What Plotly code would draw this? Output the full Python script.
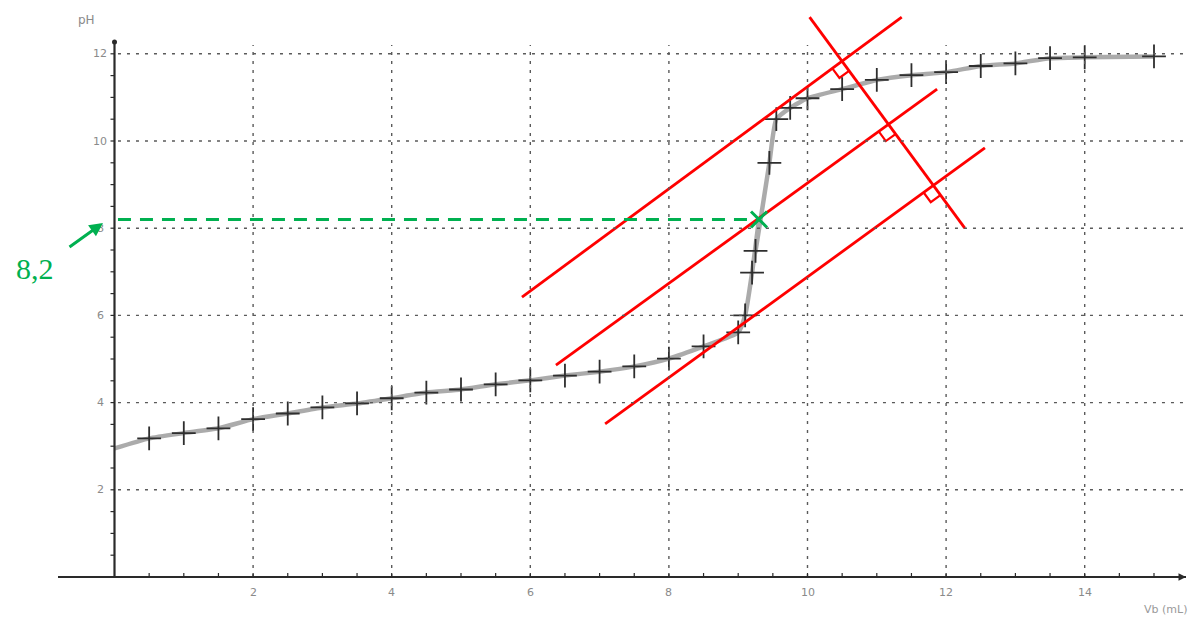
import plotly.graph_objects as go

# Titration curve: pH versus added base volume Vb (mL)
vol = [0.5, 1.0, 1.5, 2.0, 2.5, 3.0, 3.5, 4.0, 4.5, 5.0, 5.5, 6.0, 6.5, 7.0, 7.5,
       8.0, 8.5, 9.0, 9.1, 9.2, 9.25, 9.45, 9.55, 9.75, 10.0, 10.5, 11.0, 11.5,
       12.0, 12.5, 13.0, 13.5, 14.0, 15.0]
ph = [3.18, 3.30, 3.41, 3.62, 3.75, 3.89, 3.98, 4.10, 4.23, 4.30, 4.42, 4.51, 4.62,
      4.71, 4.83, 5.01, 5.29, 5.61, 6.00, 6.98, 7.48, 9.50, 10.50, 10.76, 10.98,
      11.19, 11.40, 11.51, 11.58, 11.72, 11.78, 11.90, 11.92, 11.94]

# Smoothed curve through the measurements
curve_vol = [0.0] + vol[:20] + [9.3] + vol[20:]
curve_ph = [2.95] + ph[:20] + [8.2] + ph[20:]

# Equivalence point
eq_vol = 9.3
eq_ph = 8.2

# Parallel tangents method: three parallel lines and their common perpendicular
tangent_upper = ([5.88, 11.36], [6.42, 12.84])
tangent_middle = ([6.37, 11.87], [4.86, 11.19])
tangent_lower = ([7.08, 12.56], [3.51, 9.84])
perpendicular = ([10.03, 12.27], [12.84, 8.00])

x_ticks = [2, 4, 6, 8, 10, 12, 14]
y_ticks = [2, 4, 6, 8, 10, 12]

# Canvas geometry
W, H = 1190, 621
X0_PX, PX_PER_ML = 114.5, 69.3
Y0_PX, PX_PER_PH = 577.0, 43.6


def to_px(v, p):
    return X0_PX + v * PX_PER_ML, Y0_PX - p * PX_PER_PH


def to_data(x, y):
    return (x - X0_PX) / PX_PER_ML, (Y0_PX - y) / PX_PER_PH


x_range = [to_data(0, 0)[0], to_data(W, 0)[0]]
y_range = [to_data(0, H)[1], to_data(0, 0)[1]]

fig = go.Figure()

GRID = "#5a5a5a"
AXIS = "#2a2a2a"
shapes = []

# Dotted grid
for xv in x_ticks:
    shapes.append(dict(type="line", x0=xv, x1=xv, y0=0, y1=to_data(0, 45)[1],
                       line=dict(color=GRID, width=1.4, dash="3px,6px")))
for yv in y_ticks:
    shapes.append(dict(type="line", x0=0.05, x1=to_data(1184, 0)[0], y0=yv, y1=yv,
                       line=dict(color=GRID, width=1.4, dash="3px,6px")))

# Axes
x_end = to_data(1186, 0)[0]
shapes.append(dict(type="line", x0=to_data(58, 0)[0], x1=x_end, y0=0, y1=0,
                   line=dict(color=AXIS, width=2)))
y_top = to_data(0, 42)[1]
shapes.append(dict(type="line", x0=0, x1=0, y0=0, y1=y_top,
                   line=dict(color=AXIS, width=2.2)))

# Minor ticks
k = 1
while k * 0.5 < 15.2:
    v = k * 0.5
    shapes.append(dict(type="line", x0=v, x1=v, y0=0, y1=to_data(0, Y0_PX - 4)[1],
                       line=dict(color=AXIS, width=1.2)))
    k += 1
k = 1
while k * 0.5 < 12.1:
    p = k * 0.5
    shapes.append(dict(type="line", x0=0, x1=to_data(X0_PX - 4, 0)[0], y0=p, y1=p,
                       line=dict(color=AXIS, width=1.2)))
    k += 1

# Right-angle marks where the perpendicular meets each tangent
def unit(dx, dy):
    n = (dx * dx + dy * dy) ** 0.5
    return dx / n, dy / n

pa = to_px(perpendicular[0][0], perpendicular[1][0])
pb = to_px(perpendicular[0][1], perpendicular[1][1])
perp_dir = unit(pb[0] - pa[0], pb[1] - pa[1])
RED = "#ff0000"
for line in (tangent_upper, tangent_middle, tangent_lower):
    a = to_px(line[0][0], line[1][0])
    b = to_px(line[0][1], line[1][1])
    d = unit(b[0] - a[0], b[1] - a[1])
    # intersection of the two lines in pixel space
    den = perp_dir[0] * (-d[1]) - perp_dir[1] * (-d[0])
    rx, ry = a[0] - pa[0], a[1] - pa[1]
    t = (rx * (-d[1]) - ry * (-d[0])) / den
    ix, iy = pa[0] + t * perp_dir[0], pa[1] + t * perp_dir[1]
    s = 12
    u1 = (-d[0] * s, -d[1] * s)
    u2 = (perp_dir[0] * s, perp_dir[1] * s)
    pts = [(ix + u1[0], iy + u1[1]),
           (ix + u1[0] + u2[0], iy + u1[1] + u2[1]),
           (ix + u2[0], iy + u2[1])]
    dv = [to_data(px, py) for px, py in pts]
    fig.add_trace(go.Scatter(x=[p[0] for p in dv], y=[p[1] for p in dv], mode="lines",
                             line=dict(color=RED, width=2.2), hoverinfo="skip",
                             showlegend=False))

fig.update_layout(shapes=shapes)

# Curve and measured points
fig.add_trace(go.Scatter(x=curve_vol, y=curve_ph, mode="lines",
                         line=dict(color="rgba(135,135,135,0.7)", width=4.5,
                                   shape="spline", smoothing=0.5),
                         showlegend=False, hoverinfo="skip"))
fig.add_trace(go.Scatter(x=vol, y=ph, mode="markers",
                         marker=dict(symbol="cross-thin", size=17,
                                     line=dict(color="#2e2e2e", width=1.8)),
                         showlegend=False))

# Construction lines
for line in (tangent_upper, tangent_middle, tangent_lower, perpendicular):
    fig.add_trace(go.Scatter(x=line[0], y=line[1], mode="lines",
                             line=dict(color=RED, width=2.8), showlegend=False,
                             hoverinfo="skip"))

GREEN = "#00b050"
fig.add_trace(go.Scatter(x=[0.05, eq_vol], y=[eq_ph, eq_ph], mode="lines",
                         line=dict(color=GREEN, width=3, dash="13px,9px"),
                         showlegend=False, hoverinfo="skip"))
fig.add_trace(go.Scatter(x=[eq_vol], y=[eq_ph], mode="markers",
                         marker=dict(symbol="x-thin", size=16,
                                     line=dict(color=GREEN, width=3)),
                         showlegend=False))

annotations = []
for xv in x_ticks:
    annotations.append(dict(x=xv, y=to_data(0, 592)[1], text=str(xv), showarrow=False,
                            font=dict(family="DejaVu Sans", size=11, color="#8a8a8a")))
for yv in y_ticks:
    annotations.append(dict(x=to_data(100, 0)[0], y=yv, text=str(yv), showarrow=False,
                            font=dict(family="DejaVu Sans", size=11, color="#8a8a8a")))
annotations.append(dict(x=to_data(86, 0)[0], y=to_data(0, 20)[1], text="pH",
                        showarrow=False,
                        font=dict(family="DejaVu Sans", size=12, color="#8a8a8a")))
annotations.append(dict(x=to_data(1165, 0)[0], y=to_data(0, 609)[1], text="Vb (mL)",
                        showarrow=False,
                        font=dict(family="DejaVu Sans", size=11, color="#9a9a9a")))
# Arrow tip on the x axis
annotations.append(dict(x=x_end, y=0, ax=-10, ay=0, text="", showarrow=True,
                        arrowhead=2, arrowsize=1, arrowwidth=1.5, arrowcolor=AXIS))
# Equivalence pH readout
head = to_data(103, 223)
annotations.append(dict(x=head[0], y=head[1], ax=-35, ay=25, text="", showarrow=True,
                        arrowhead=2, arrowsize=0.9, arrowwidth=3, arrowcolor=GREEN))
lab = to_data(35, 268)
annotations.append(dict(x=lab[0], y=lab[1], text="8,2", showarrow=False,
                        font=dict(family="Liberation Serif", size=30, color=GREEN)))

fig.add_trace(go.Scatter(x=[0], y=[y_top], mode="markers",
                         marker=dict(size=5, color=AXIS), showlegend=False,
                         hoverinfo="skip"))

fig.update_layout(
    width=W, height=H,
    margin=dict(l=0, r=0, t=0, b=0),
    paper_bgcolor="white", plot_bgcolor="white",
    xaxis=dict(range=x_range, visible=False, fixedrange=True),
    yaxis=dict(range=y_range, visible=False, fixedrange=True),
    annotations=annotations,
    showlegend=False,
)

fig.write_html("out.html")
